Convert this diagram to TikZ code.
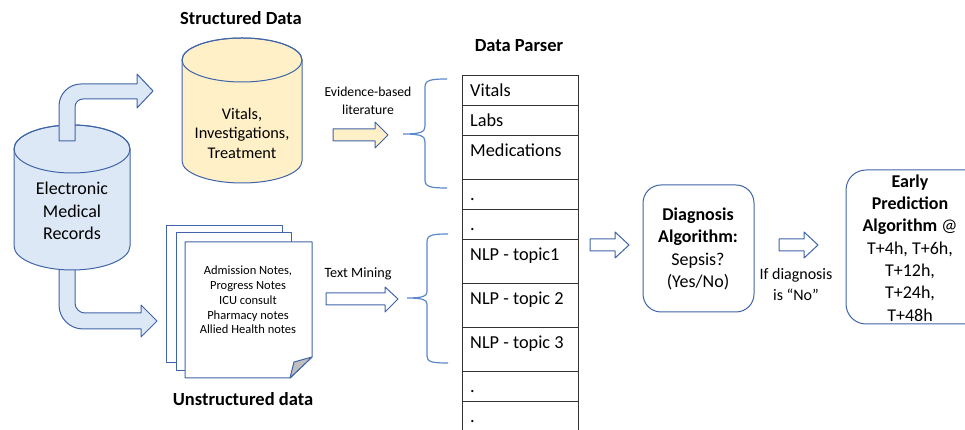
\documentclass[tikz,border=0pt]{standalone}
\usepackage{fontspec}
\setmainfont{Carlito}
\definecolor{edgeblue}{HTML}{3F64A8}
\definecolor{bracecol}{HTML}{5B87CC}
\definecolor{lblue}{HTML}{DDE8F6}
\definecolor{lyellow}{HTML}{FFF0C8}
\definecolor{foldgray}{HTML}{BFBFBF}
\tikzset{
  shapeline/.style={draw=edgeblue, line width=1pt, line join=round},
  bracestyle/.style={draw=bracecol, line width=1.2pt},
  tabline/.style={draw=black!80, line width=0.9pt},
  txt/.style={inner sep=0pt, align=center},
  bigtxt/.style={txt, font=\fontsize{18}{22.5}\selectfont},
  headtxt/.style={txt, font=\bfseries\fontsize{18.5}{21}\selectfont},
  celltxt/.style={inner sep=0pt, anchor=base west, font=\fontsize{18.3}{22}\selectfont},
  roundbox/.style={shapeline, rounded corners=18pt, fill=white},
}
\begin{document}
\begin{tikzpicture}[x=1pt,y=1pt]
\useasboundingbox (0,0) rectangle (965,430);
\fill[white] (0,0) rectangle (965,430);

% lower bent arrow (behind EMR cylinder)
\path[shapeline, fill=lblue] (59,175) -- (59,125) arc[start angle=180,end angle=270,radius=24]
  -- (141,101) -- (141,93) -- (157,109) -- (141,125) -- (141,117) -- (85,117)
  arc[start angle=270,end angle=180,radius=10] -- (75,175) -- cycle;

% EMR cylinder
\path[shapeline, fill=lblue] (14,281) -- (14,184) arc[start angle=180,end angle=360,x radius=58,y radius=24]
  -- (130,281) arc[start angle=0,end angle=180,x radius=58,y radius=24] -- cycle;
\draw[shapeline] (72,281) ellipse[x radius=58,y radius=24];
\node[bigtxt] (emr) at (72,219) {Electronic\\Medical\\Records};

% upper bent arrow (over EMR top)
\path[shapeline, fill=lblue] (59,289) -- (59,324) arc[start angle=180,end angle=90,radius=22]
  -- (137,346) -- (137,356) -- (153,339) -- (137,322) -- (137,331) -- (83,331)
  arc[start angle=90,end angle=180,radius=8] -- (75,289) -- cycle;

% Structured cylinder
\node[headtxt] (sdtitle) at (241,412) {Structured Data};
\path[shapeline, fill=lyellow] (182,370) -- (182,269) arc[start angle=180,end angle=360,x radius=60,y radius=22]
  -- (302,370) arc[start angle=0,end angle=180,x radius=60,y radius=22] -- cycle;
\draw[shapeline] (242,370) ellipse[x radius=60,y radius=22];
\node[txt, font=\fontsize{16.3}{19.5}\selectfont] (sd) at (242,297) {Vitals,\\Investigations,\\Treatment};

% documents
\draw[shapeline, fill=white] (166,204) rectangle (282,67);
\draw[shapeline, fill=white] (176,197) rectangle (291,59);
\draw[shapeline, fill=white] (185,188) -- (312,188) -- (312,73) -- (290,52) -- (185,52) -- cycle;
\draw[shapeline, fill=foldgray] (312,73) -- (290,52) -- (294,68) -- cycle;
\node[txt, font=\fontsize{12.5}{14.8}\selectfont] (notes) at (248,130)
  {Admission Notes,\\Progress Notes\\ICU consult\\Pharmacy notes\\Allied Health notes};
\node[headtxt] (udtitle) at (243,31) {Unstructured data};

% evidence arrow
\path[shapeline, fill=lyellow] (333,301) -- (375,301) -- (375,308) -- (388,295) -- (375,282) -- (375,289) -- (333,289) -- cycle;
\node[txt, font=\fontsize{13.7}{18}\selectfont] (evid) at (368,329) {Evidence-based\\literature};

% text mining arrow
\path[shapeline, fill=white] (326,137) -- (385,137) -- (385,143) -- (398,131) -- (385,118) -- (385,125) -- (326,125) -- cycle;
\node[txt, font=\fontsize{14.2}{17}\selectfont] (tm) at (358,156) {Text Mining};

% braces
\draw[bracestyle] (447,351) .. controls (431,351) and (425,350) .. (425,343) -- (425,304)
  .. controls (425,298) and (421,296) .. (403,296)
  .. controls (421,296) and (425,294) .. (425,288) -- (425,250)
  .. controls (425,243) and (431,242) .. (447,242);
\draw[bracestyle] (448,196) .. controls (432,196) and (427,195) .. (427,188) -- (427,138)
  .. controls (427,134) and (423,132) .. (407,132)
  .. controls (423,132) and (427,130) .. (427,126) -- (427,74)
  .. controls (427,68) and (432,67) .. (448,67);

% data parser table
\node[headtxt] (dptitle) at (519,384) {Data Parser};
\draw[tabline] (462,-2) -- (462,355) -- (578,355) -- (578,-2);
\foreach \yy in {325,295,251,221,191,147,103,59,29} {
  \draw[tabline] (462,\yy) -- (578,\yy);
}
\node[celltxt] (r1) at (470,333) {Vitals};
\node[celltxt] (r2) at (470,303) {Labs};
\node[celltxt] (r3) at (470,273) {Medications};
\node[celltxt] (r4) at (470,229) {.};
\node[celltxt] (r5) at (470,199) {.};
\node[celltxt] (r6) at (470,169) {NLP - topic1};
\node[celltxt] (r7) at (470,125) {NLP - topic 2};
\node[celltxt] (r8) at (470,81) {NLP - topic 3};
\node[celltxt] (r9) at (470,37) {.};
\node[celltxt] (r10) at (470,7) {.};

% arrow to diagnosis
\path[shapeline, fill=white] (590,191) -- (615,191) -- (615,198) -- (629,185) -- (615,172) -- (615,179) -- (590,179) -- cycle;

% diagnosis box
\draw[roundbox] (643,118) rectangle (754,245);
\node[bigtxt] (diag) at (698,181) {\textbf{Diagnosis}\\\textbf{Algorithm:}\\Sepsis?\\(Yes/No)};

% arrow to early prediction
\path[shapeline, fill=white] (779,191) -- (804,191) -- (804,198) -- (818,185) -- (804,172) -- (804,179) -- (779,179) -- cycle;
\node[txt, font=\fontsize{16}{21}\selectfont] (ifdiag) at (796,145) {If diagnosis\\is “No”};

% early prediction box
\draw[roundbox, rounded corners=20pt] (846,106) rectangle (985,260);
\node[txt, font=\fontsize{18}{22.3}\selectfont] (early) at (910,182)
  {\textbf{Early}\\\textbf{Prediction}\\\textbf{Algorithm} @\\T+4h, T+6h,\\T+12h,\\T+24h,\\T+48h};
\end{tikzpicture}
\end{document}
